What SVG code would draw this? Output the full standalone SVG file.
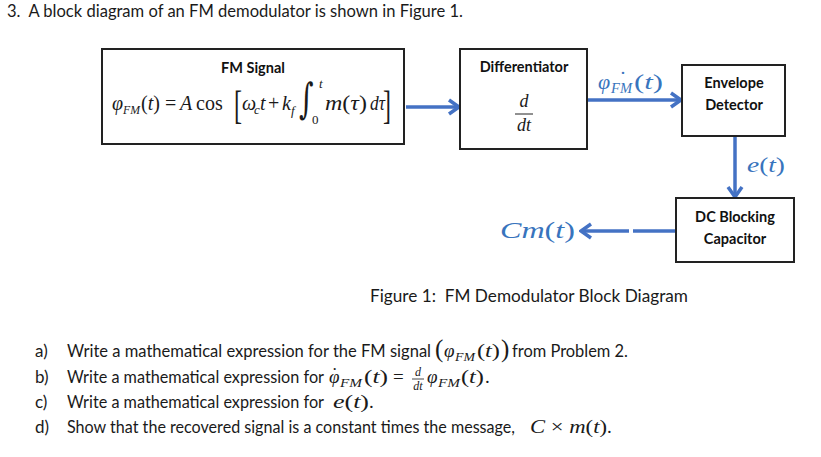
<svg xmlns="http://www.w3.org/2000/svg" width="821" height="457" viewBox="0 0 821 457">
<defs>
<style>
.body{font-family:Lato,"Open Sans","Liberation Sans",sans-serif;font-size:17px;fill:#1a1a1a}
.lbl{font-family:Lato,"Open Sans","Liberation Sans",sans-serif;font-size:14.5px;font-weight:bold;fill:#111;text-anchor:middle}
.m{font-family:"Liberation Serif","DejaVu Serif",serif;fill:#1a1a1a}
.i{font-style:italic}
.blue{fill:#3874bd}
.box{fill:#fff;stroke:#222;stroke-width:2}
.conn{stroke:#4472C4;stroke-width:3.5;fill:none}
</style>
<marker id="arr" markerUnits="userSpaceOnUse" viewBox="0 0 16 18" markerWidth="16" markerHeight="18" refX="14" refY="9" orient="auto">
<path d="M4,2 L14,9 L4,16" fill="none" stroke="#4472C4" stroke-width="3.5"/>
</marker>
</defs>
<rect width="821" height="457" fill="#fff"/>

<text class="body" x="7" y="17" textLength="456" lengthAdjust="spacingAndGlyphs">3.&#160; A block diagram of an FM demodulator is shown in Figure 1.</text>

<g id="connectors">
<line class="conn" x1="406" y1="107" x2="459" y2="107" marker-end="url(#arr)"/>
<line class="conn" x1="588" y1="100" x2="681" y2="100" marker-end="url(#arr)"/>
<line class="conn" x1="735" y1="137" x2="735" y2="197" marker-end="url(#arr)"/>
<line class="conn" x1="675" y1="231" x2="633" y2="231"/>
<line class="conn" x1="629" y1="231" x2="581" y2="231" marker-end="url(#arr)"/>
<g id="label-phidot">
<text class="m i blue" x="598" y="89" font-size="22">φ<tspan class="m blue" font-style="normal" dx="9" dy="-3">˙</tspan></text>
<text class="m i blue" x="611" y="93" font-size="14" textLength="21" lengthAdjust="spacingAndGlyphs">FM</text>
<text class="m blue" x="634" y="89" font-size="22" textLength="29" lengthAdjust="spacingAndGlyphs">(<tspan class="i">t</tspan>)</text>
</g>
<text id="label-e" class="m blue" x="747" y="172" font-size="21" textLength="38" lengthAdjust="spacingAndGlyphs"><tspan class="i">e</tspan>(<tspan class="i">t</tspan>)</text>
<text id="label-cm" class="m blue" x="500" y="238" font-size="23" textLength="75" lengthAdjust="spacingAndGlyphs"><tspan class="i">Cm</tspan>(<tspan class="i">t</tspan>)</text>
</g>

<g id="fm-signal">
<rect class="box" x="102" y="49" width="302" height="95"/>
<text class="lbl" x="253" y="73">FM Signal</text>
<g font-size="20">
<text class="m i" x="112" y="110">φ</text>
<text class="m i" x="123" y="114" font-size="13" textLength="17" lengthAdjust="spacingAndGlyphs">FM</text>
<text class="m" x="141" y="110" textLength="19" lengthAdjust="spacingAndGlyphs">(<tspan class="i">t</tspan>)</text>
<text class="m" x="165" y="110">=</text>
<text class="m i" x="180" y="110">A</text>
<text class="m" x="196" y="110">cos</text>
<text class="m" font-size="24" transform="translate(234,119) scale(1,1.7)">[</text>
<text class="m i" x="242" y="110">ω</text>
<text class="m i" x="254" y="114" font-size="13">c</text>
<text class="m i" x="260" y="110">t</text>
<text class="m" x="268" y="110">+</text>
<text class="m i" x="282" y="110">k</text>
<text class="m i" x="291" y="115" font-size="13">f</text>
<text font-family="'DejaVu Serif',serif" fill="#1a1a1a" font-size="40" transform="translate(299,113) scale(0.7,1.05)">∫</text>
<text class="m i" x="319" y="88" font-size="13">t</text>
<text class="m" x="312" y="124" font-size="13">0</text>
<text class="m" x="325" y="110" textLength="42" lengthAdjust="spacingAndGlyphs"><tspan class="i">m</tspan>(<tspan class="i">τ</tspan>)</text>
<text class="m i" x="370" y="110" textLength="15" lengthAdjust="spacingAndGlyphs">dτ</text>
<text class="m" font-size="24" transform="translate(383,119) scale(1,1.7)">]</text>
</g>
</g>

<g id="differentiator">
<rect class="box" x="460" y="49" width="127" height="100"/>
<text class="lbl" x="524" y="72">Differentiator</text>
<text class="m i" x="524" y="107" font-size="18" text-anchor="middle">d</text>
<line x1="515" y1="114" x2="533" y2="114" stroke="#222" stroke-width="1"/>
<text class="m i" x="524" y="131" font-size="18" text-anchor="middle">dt</text>
</g>

<g id="envelope-detector">
<rect class="box" x="682" y="65" width="103" height="71"/>
<text class="lbl" x="734" y="88">Envelope</text>
<text class="lbl" x="734" y="110">Detector</text>
</g>

<g id="dc-blocking-capacitor">
<rect class="box" x="676" y="198" width="118" height="64"/>
<text class="lbl" x="735" y="222">DC Blocking</text>
<text class="lbl" x="735" y="244">Capacitor</text>
</g>

<text class="body" x="370" y="302" font-size="18" textLength="318" lengthAdjust="spacingAndGlyphs">Figure 1:&#160; FM Demodulator Block Diagram</text>

<g id="questions">
<text class="body" x="35" y="357">a)</text>
<text class="body" x="67" y="357" textLength="364" lengthAdjust="spacingAndGlyphs">Write a mathematical expression for the FM signal</text>
<text class="m" x="435" y="357" font-size="25">(</text>
<text class="m i" x="444" y="357" font-size="19">φ</text>
<text class="m i" x="455" y="361" font-size="12.5" textLength="20" lengthAdjust="spacingAndGlyphs">FM</text>
<text class="m" x="477" y="357" font-size="19" textLength="23" lengthAdjust="spacingAndGlyphs">(<tspan class="i">t</tspan>)</text>
<text class="m" x="501" y="357" font-size="25">)</text>
<text class="body" x="512" y="357" textLength="116" lengthAdjust="spacingAndGlyphs">from Problem 2.</text>

<text class="body" x="35" y="383">b)</text>
<text class="body" x="67" y="383" textLength="257" lengthAdjust="spacingAndGlyphs">Write a mathematical expression for</text>
<text class="m i" x="329" y="383" font-size="19">φ<tspan font-style="normal" dx="-8" dy="-2">˙</tspan></text>
<text class="m i" x="340" y="387" font-size="12.5" textLength="22" lengthAdjust="spacingAndGlyphs">FM</text>
<text class="m" x="364" y="383" font-size="19" textLength="24" lengthAdjust="spacingAndGlyphs">(<tspan class="i">t</tspan>)</text>
<text class="m" x="393" y="383" font-size="19">=</text>
<text class="m i" x="418" y="376" font-size="12" text-anchor="middle">d</text>
<line x1="412" y1="379" x2="424" y2="379" stroke="#1a1a1a" stroke-width="0.8"/>
<text class="m i" x="418" y="390" font-size="12" text-anchor="middle">dt</text>
<text class="m i" x="427" y="383" font-size="19">φ</text>
<text class="m i" x="438" y="387" font-size="12.5" textLength="22" lengthAdjust="spacingAndGlyphs">FM</text>
<text class="m" x="461" y="383" font-size="19" textLength="23" lengthAdjust="spacingAndGlyphs">(<tspan class="i">t</tspan>)</text>
<text class="m" x="485" y="383" font-size="19">.</text>

<text class="body" x="35" y="408">c)</text>
<text class="body" x="67" y="408" textLength="257" lengthAdjust="spacingAndGlyphs">Write a mathematical expression for</text>
<text class="m" x="333" y="408" font-size="19" textLength="36" lengthAdjust="spacingAndGlyphs"><tspan class="i">e</tspan>(<tspan class="i">t</tspan>)</text>
<text class="m" x="369" y="408" font-size="19">.</text>

<text class="body" x="35" y="433">d)</text>
<text class="body" x="67" y="433" textLength="448" lengthAdjust="spacingAndGlyphs">Show that the recovered signal is a constant times the message,</text>
<text class="m" x="530" y="433" font-size="19" textLength="77" lengthAdjust="spacingAndGlyphs"><tspan class="i">C</tspan> × <tspan class="i">m</tspan>(<tspan class="i">t</tspan>)</text>
<text class="m" x="607" y="433" font-size="19">.</text>
</g>
</svg>
